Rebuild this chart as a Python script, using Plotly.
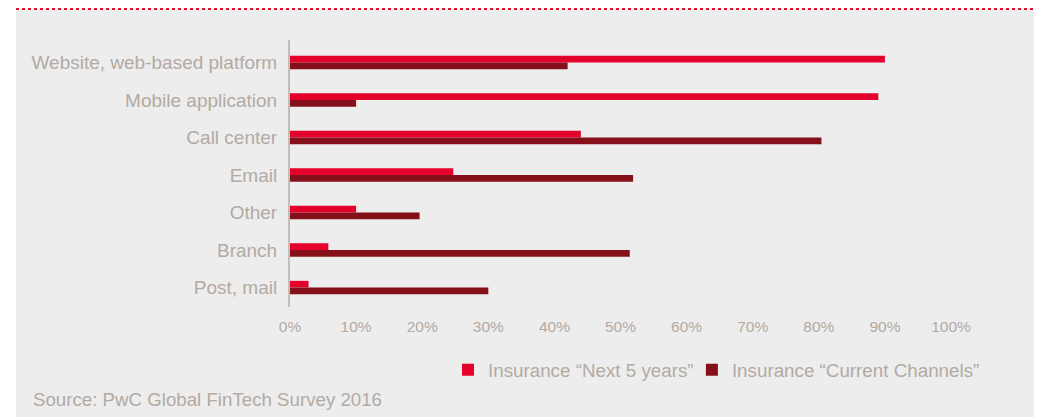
import plotly.graph_objects as go

categories = ["Website, web-based platform", "Mobile application", "Call center",
              "Email", "Other", "Branch", "Post, mail"]
next5 = [90, 89, 44, 24.7, 10, 5.8, 2.8]
current = [42, 10, 80.4, 51.9, 19.6, 51.4, 30]
series_names = ["Insurance \u201cNext 5 years\u201d", "Insurance \u201cCurrent Channels\u201d"]
tick_vals = [0, 10, 20, 30, 40, 50, 60, 70, 80, 90, 100]
tick_text = ["0%", "10%", "20%", "30%", "40%", "50%", "60%", "70%", "80%", "90%", "100%"]

RED = "#e4022c"
DARK = "#85101b"
GREY_TXT = "#b3aaa3"
BG = "#ededed"

fig = go.Figure()
fig.add_trace(go.Bar(y=categories, x=next5, orientation="h", name=series_names[0],
                     marker=dict(color=RED, line=dict(width=0)), legend="legend"))
fig.add_trace(go.Bar(y=categories, x=current, orientation="h", name=series_names[1],
                     marker=dict(color=DARK, line=dict(width=0)), legend="legend2"))

legend_common = dict(orientation="h", xanchor="left", y=-0.236, yanchor="middle",
                     bgcolor="rgba(0,0,0,0)", font=dict(size=18.8, color=GREY_TXT))

fig.update_layout(
    width=1042, height=417,
    margin=dict(l=282, r=99, t=32, b=118),
    paper_bgcolor="white", plot_bgcolor=BG,
    barmode="group", bargap=0.645, bargroupgap=0,
    font=dict(family="Liberation Sans, Arial, sans-serif", color=GREY_TXT, size=16),
    showlegend=True,
    legend=dict(x=0.239, **legend_common),
    legend2=dict(x=0.608, **legend_common),
    xaxis=dict(range=[0, 100], tickvals=tick_vals, ticktext=tick_text,
               showgrid=False, zeroline=False, showline=False, ticks="",
               tickfont=dict(family="Liberation Sans Narrow, Liberation Sans, sans-serif",
                             size=15.5, color=GREY_TXT),
               ticklabelstandoff=8),
    yaxis=dict(categoryorder="array", categoryarray=categories, range=[6.52, -0.6],
               showgrid=False, zeroline=False, showline=True, linecolor="#c5bdb6",
               linewidth=2, ticks="", ticklabelstandoff=7,
               tickfont=dict(size=19, color=GREY_TXT)),
    shapes=[
        dict(type="rect", xref="paper", yref="paper", x0=-0.4145, x1=1.130,
             y0=-0.5, y1=1.116, fillcolor=BG, line=dict(width=0), layer="below"),
        dict(type="line", xref="paper", yref="paper", x0=-0.4145, x1=1.130,
             y0=1.118, y1=1.118, line=dict(color="#e0102e", width=3, dash="dot")),
    ],
    annotations=[
        dict(text="Source: PwC Global FinTech Survey 2016", xref="paper", yref="paper",
             x=-0.392, y=-0.345, xanchor="left", yanchor="middle", showarrow=False,
             font=dict(size=18.7, color=GREY_TXT)),
    ],
)

fig.write_html("out.html")
